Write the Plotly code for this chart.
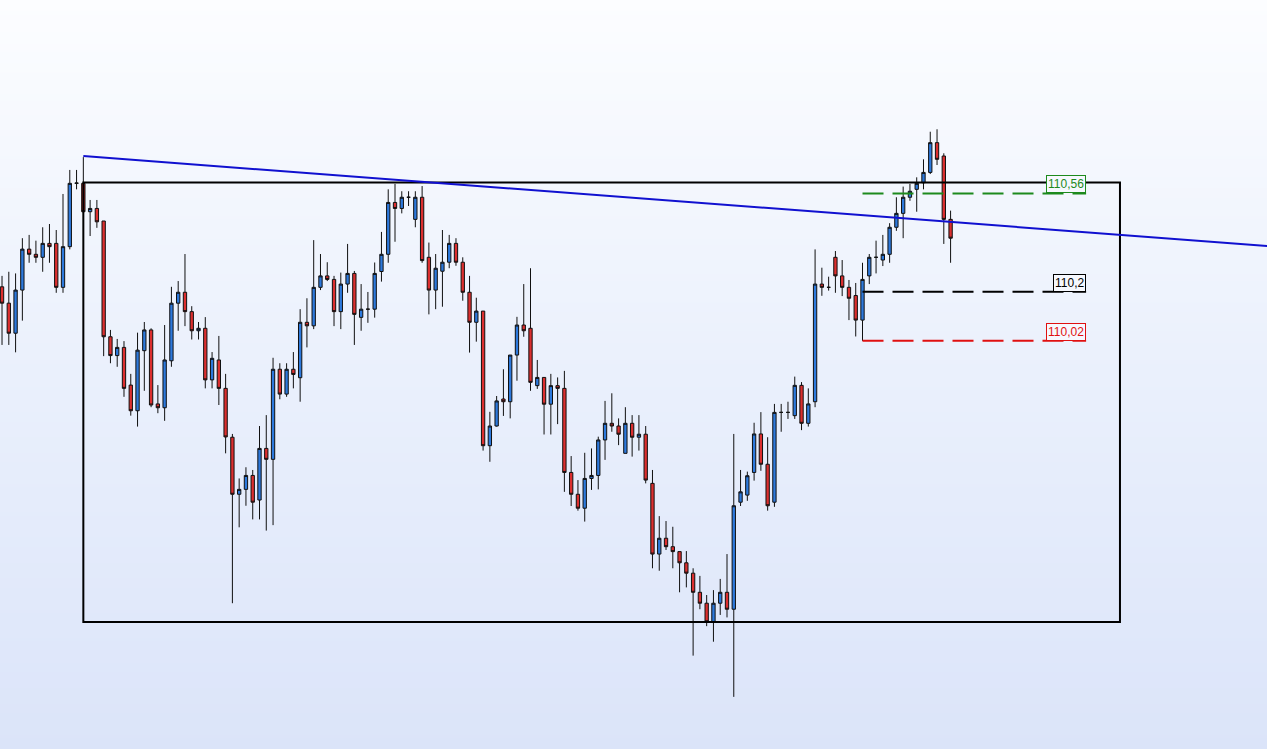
import plotly.graph_objects as go

# Candles (one per bar, left to right)
candle_open = [
  110.218, 110.158, 110.048, 110.206, 110.356, 110.337, 110.326, 110.377, 110.377, 110.216,
  110.365, 110.597, 110.597, 110.493, 110.505, 110.459, 110.035, 109.966, 109.996, 109.858,
  109.764, 109.984, 110.060, 109.789, 109.775, 109.947, 110.158, 110.198, 110.127, 110.057,
  110.066, 109.877, 109.950, 109.846, 109.667, 109.458, 109.476, 109.527, 109.437, 109.626,
  109.586, 109.916, 109.825, 109.916, 109.885, 110.088, 110.075, 110.216, 110.258, 110.245,
  110.127, 110.228, 110.267, 110.106, 110.136, 110.136, 110.274, 110.337, 110.527, 110.505,
  110.546, 110.465, 110.546, 110.326, 110.206, 110.275, 110.308, 110.377, 110.308, 110.198,
  110.088, 110.129, 109.636, 109.708, 109.807, 109.797, 109.968, 110.078, 110.066, 109.856,
  109.886, 109.788, 109.856, 109.846, 109.538, 109.458, 109.407, 109.516, 109.527, 109.657,
  109.718, 109.708, 109.608, 109.718, 109.667, 109.678, 109.498, 109.239, 109.297, 109.266,
  109.248, 109.207, 109.169, 109.099, 109.059, 108.991, 109.059, 109.099, 109.037, 109.429,
  109.455, 109.538, 109.679, 109.568, 109.429, 109.758, 109.758, 109.746, 109.857, 109.718,
  109.797, 110.228, 110.216, 110.326, 110.258, 110.216, 110.186, 110.096, 110.258, 110.326,
  110.316, 110.337, 110.436, 110.487, 110.546, 110.575, 110.599, 110.637, 110.746, 110.697,
  110.465]
candle_high = [
  110.258, 110.273, 110.267, 110.396, 110.408, 110.387, 110.436, 110.448, 110.426, 110.558,
  110.646, 110.646, 110.693, 110.536, 110.536, 110.459, 110.060, 110.027, 110.019, 109.899,
  110.050, 110.089, 110.066, 109.858, 110.078, 110.218, 110.239, 110.338, 110.147, 110.089,
  110.107, 109.979, 110.038, 109.899, 109.679, 109.516, 109.557, 109.547, 109.708, 109.748,
  109.958, 109.938, 109.938, 109.979, 110.136, 110.176, 110.389, 110.338, 110.308, 110.258,
  110.270, 110.375, 110.276, 110.228, 110.199, 110.307, 110.419, 110.575, 110.595, 110.568,
  110.568, 110.568, 110.587, 110.380, 110.338, 110.426, 110.408, 110.396, 110.326, 110.258,
  110.178, 110.129, 109.760, 109.818, 109.916, 109.968, 110.108, 110.228, 110.286, 109.950,
  109.886, 109.899, 109.886, 109.910, 109.598, 109.510, 109.610, 109.626, 109.669, 109.800,
  109.828, 109.736, 109.777, 109.748, 109.748, 109.708, 109.547, 109.378, 109.360, 109.339,
  109.248, 109.250, 109.187, 109.159, 109.089, 109.107, 109.148, 109.239, 109.679, 109.547,
  109.541, 109.720, 109.759, 109.667, 109.789, 109.789, 109.797, 109.889, 109.869, 109.846,
  110.355, 110.288, 110.255, 110.349, 110.316, 110.243, 110.232, 110.306, 110.338, 110.387,
  110.408, 110.451, 110.546, 110.585, 110.595, 110.619, 110.685, 110.786, 110.795, 110.707,
  110.497]
candle_low = [
  110.005, 110.005, 109.978, 110.094, 110.306, 110.306, 110.273, 110.306, 110.196, 110.196,
  110.355, 110.575, 110.488, 110.404, 110.434, 109.964, 109.938, 109.925, 109.815, 109.746,
  109.706, 109.837, 109.777, 109.755, 109.727, 109.925, 110.057, 110.074, 110.025, 110.025,
  109.846, 109.846, 109.785, 109.608, 109.059, 109.337, 109.416, 109.366, 109.366, 109.325,
  109.345, 109.806, 109.815, 109.846, 109.797, 109.996, 110.063, 110.206, 110.239, 110.074,
  110.063, 110.196, 110.005, 110.057, 110.086, 110.105, 110.237, 110.306, 110.383, 110.487,
  110.514, 110.436, 110.306, 110.117, 110.136, 110.145, 110.286, 110.295, 110.167, 109.977,
  110.017, 109.618, 109.577, 109.706, 109.745, 109.736, 109.874, 110.035, 109.837, 109.844,
  109.677, 109.677, 109.715, 109.467, 109.415, 109.398, 109.358, 109.474, 109.476, 109.584,
  109.687, 109.638, 109.608, 109.596, 109.618, 109.498, 109.187, 109.178, 109.254, 109.187,
  109.099, 109.117, 108.867, 109.037, 108.975, 108.918, 109.016, 109.007, 108.716, 109.415,
  109.434, 109.508, 109.544, 109.398, 109.412, 109.687, 109.734, 109.734, 109.693, 109.706,
  109.777, 110.185, 110.204, 110.196, 110.184, 110.096, 110.036, 110.020, 110.228, 110.267,
  110.294, 110.306, 110.423, 110.396, 110.533, 110.493, 110.575, 110.631, 110.664, 110.375,
  110.306]
candle_close = [
  110.158, 110.048, 110.206, 110.356, 110.337, 110.326, 110.377, 110.365, 110.216, 110.365,
  110.597, 110.598, 110.493, 110.505, 110.456, 110.035, 109.966, 109.996, 109.846, 109.764,
  109.986, 110.060, 109.785, 109.775, 109.950, 110.158, 110.198, 110.127, 110.057, 110.066,
  109.877, 109.956, 109.846, 109.668, 109.458, 109.476, 109.527, 109.429, 109.626, 109.586,
  109.916, 109.825, 109.916, 109.897, 110.088, 110.075, 110.216, 110.258, 110.245, 110.127,
  110.228, 110.267, 110.117, 110.136, 110.136, 110.267, 110.337, 110.527, 110.505, 110.546,
  110.546, 110.546, 110.314, 110.206, 110.286, 110.308, 110.377, 110.308, 110.198, 110.088,
  110.129, 109.636, 109.708, 109.800, 109.797, 109.968, 110.078, 110.057, 109.868, 109.886,
  109.788, 109.856, 109.846, 109.538, 109.458, 109.407, 109.516, 109.527, 109.657, 109.718,
  109.708, 109.678, 109.718, 109.667, 109.678, 109.510, 109.239, 109.297, 109.266, 109.248,
  109.207, 109.169, 109.099, 109.059, 108.991, 109.059, 109.099, 109.037, 109.416, 109.467,
  109.526, 109.679, 109.568, 109.416, 109.758, 109.758, 109.758, 109.857, 109.718, 109.789,
  110.228, 110.216, 110.216, 110.258, 110.216, 110.176, 110.096, 110.245, 110.326, 110.326,
  110.337, 110.436, 110.487, 110.546, 110.568, 110.597, 110.637, 110.746, 110.685, 110.465,
  110.396]
candle_x = list(range(len(candle_open)))

# Drawing objects (bar index / price)
trend_x = [12, 187]
trend_y = [110.697, 110.367]
box_x = [12, 165]
box_y = [108.99, 110.60]
level_x = [127, 160]
level_y = [110.56, 110.2, 110.02]
level_text = ['110,56', '110,2', '110,02']
level_color = ['#1d8a1d', '#000000', '#e01010']

# Background gradient (bottom -> top)
bg_y = [108.52, 109.9, 111.27]
bg_z = [[0, 0], [0.5, 0.5], [1, 1]]

fig = go.Figure()

fig.add_trace(go.Heatmap(
  x = [-2, 190], y = bg_y, z = bg_z,
  zsmooth = 'best', showscale = False, hoverinfo = 'skip',
  colorscale = [[0, '#DBE4F9'], [0.5, '#EAF0FC'], [1, '#FCFDFF']]
))

fig.add_trace(go.Candlestick(
  x = candle_x, open = candle_open, high = candle_high,
  low = candle_low, close = candle_close,
  increasing = dict(line = dict(color = '#101010', width = 1), fillcolor = '#2d79dc'),
  decreasing = dict(line = dict(color = '#101010', width = 1), fillcolor = '#dc2f2f'),
  whiskerwidth = 0, hoverinfo = 'skip'
))

# Box
fig.add_shape(type = 'rect', x0 = box_x[0], x1 = box_x[1], y0 = box_y[0], y1 = box_y[1],
  line = dict(color = '#000000', width = 2))

# Trendline
fig.add_shape(type = 'line', x0 = trend_x[0], x1 = trend_x[1], y0 = trend_y[0], y1 = trend_y[1],
  line = dict(color = '#1010d0', width = 2))

# Levels with labels
for lv, txt, col in zip(level_y, level_text, level_color):
  fig.add_shape(type = 'line', x0 = level_x[0], x1 = level_x[1], y0 = lv, y1 = lv,
    line = dict(color = col, width = 2, dash = '21px,9px'))
  fig.add_annotation(x = level_x[1], y = lv, text = txt, showarrow = False,
    xanchor = 'right', yanchor = 'bottom',
    font = dict(family = 'Liberation Sans', size = 12, color = col),
    bordercolor = col, borderwidth = 1, borderpad = 1, bgcolor = '#F6F8FE')

fig.update_layout(
  width = 1267, height = 749,
  margin = dict(l = 0, r = 0, t = 0, b = 0),
  showlegend = False,
  paper_bgcolor = '#F3F6FE', plot_bgcolor = '#F3F6FE',
  xaxis = dict(visible = False, range = [-0.3, 186.7], rangeslider = dict(visible = False)),
  yaxis = dict(visible = False, range = [108.525, 111.2685]),
)

# No page margin around the figure, no toolbar
fig.write_html('out.html', config = {'displayModeBar': False},
  post_script = "document.body.style.margin='0';document.body.style.overflow='hidden';")
